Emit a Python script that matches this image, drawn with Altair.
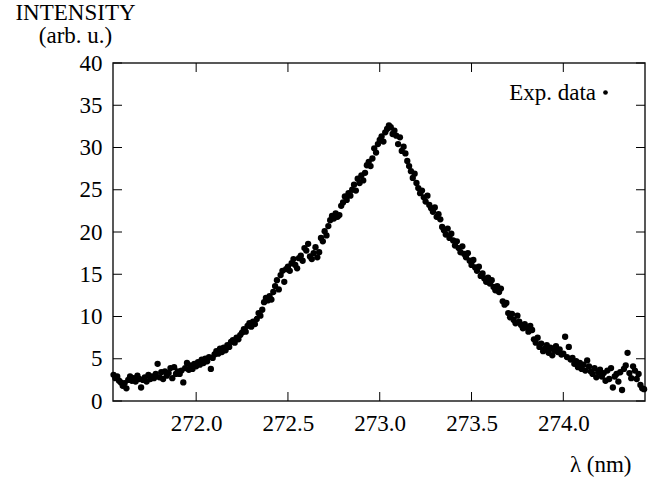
import altair as alt
import pandas as pd

# ---- data ----
wavelength = [
    271.55, 271.56, 271.57, 271.58, 271.59,
    271.60, 271.61, 271.62, 271.63, 271.64, 271.65, 271.66, 271.67, 271.68, 271.69,
    271.70, 271.71, 271.72, 271.73, 271.74, 271.75, 271.76, 271.77, 271.78, 271.79,
    271.80, 271.81, 271.82, 271.83, 271.84, 271.85, 271.86, 271.87, 271.88, 271.89,
    271.90, 271.91, 271.92, 271.93, 271.94, 271.95, 271.96, 271.97, 271.98, 271.99,
    272.00, 272.01, 272.02, 272.03, 272.04, 272.05, 272.06, 272.07, 272.08, 272.09,
    272.10, 272.11, 272.12, 272.13, 272.14, 272.15, 272.16, 272.17, 272.18, 272.19,
    272.20, 272.21, 272.22, 272.23, 272.24, 272.25, 272.26, 272.27, 272.28, 272.29,
    272.30, 272.31, 272.32, 272.33, 272.34, 272.35, 272.36, 272.37, 272.38, 272.39,
    272.40, 272.41, 272.42, 272.43, 272.44, 272.45, 272.46, 272.47, 272.48, 272.49,
    272.50, 272.51, 272.52, 272.53, 272.54, 272.55, 272.56, 272.57, 272.58, 272.59,
    272.60, 272.61, 272.62, 272.63, 272.64, 272.65, 272.66, 272.67, 272.68, 272.69,
    272.70, 272.71, 272.72, 272.73, 272.74, 272.75, 272.76, 272.77, 272.78, 272.79,
    272.80, 272.81, 272.82, 272.83, 272.84, 272.85, 272.86, 272.87, 272.88, 272.89,
    272.90, 272.91, 272.92, 272.93, 272.94, 272.95, 272.96, 272.97, 272.98, 272.99,
    273.00, 273.01, 273.02, 273.03, 273.04, 273.05, 273.06, 273.07, 273.08, 273.09,
    273.10, 273.11, 273.12, 273.13, 273.14, 273.15, 273.16, 273.17, 273.18, 273.19,
    273.20, 273.21, 273.22, 273.23, 273.24, 273.25, 273.26, 273.27, 273.28, 273.29,
    273.30, 273.31, 273.32, 273.33, 273.34, 273.35, 273.36, 273.37, 273.38, 273.39,
    273.40, 273.41, 273.42, 273.43, 273.44, 273.45, 273.46, 273.47, 273.48, 273.49,
    273.50, 273.51, 273.52, 273.53, 273.54, 273.55, 273.56, 273.57, 273.58, 273.59,
    273.60, 273.61, 273.62, 273.63, 273.64, 273.65, 273.66, 273.67, 273.68, 273.69,
    273.70, 273.71, 273.72, 273.73, 273.74, 273.75, 273.76, 273.77, 273.78, 273.79,
    273.80, 273.81, 273.82, 273.83, 273.84, 273.85, 273.86, 273.87, 273.88, 273.89,
    273.90, 273.91, 273.92, 273.93, 273.94, 273.95, 273.96, 273.97, 273.98, 273.99,
    274.00, 274.01, 274.02, 274.03, 274.04, 274.05, 274.06, 274.07, 274.08, 274.09,
    274.10, 274.11, 274.12, 274.13, 274.14, 274.15, 274.16, 274.17, 274.18, 274.19,
    274.20, 274.21, 274.22, 274.23, 274.24, 274.25, 274.26, 274.27, 274.28, 274.29,
    274.30, 274.31, 274.32, 274.33, 274.34, 274.35, 274.36, 274.37, 274.38, 274.39,
    274.40, 274.41, 274.42, 274.43, 274.44,
]
intensity = [
    3.1, 2.7, 2.9, 2.4, 2.2,
    1.8, 2.1, 1.5, 2.5, 2.9, 2.4, 2.7, 2.3, 3.0, 2.6,
    1.6, 2.5, 2.8, 2.3, 3.1, 2.6, 2.9, 2.7, 3.2, 4.4,
    2.8, 3.4, 2.6, 3.5, 3.0, 3.3, 3.9, 2.7, 4.0, 3.2,
    3.5, 3.2, 3.6, 2.2, 3.9, 4.5, 3.7, 4.2, 3.8, 4.4,
    4.1, 4.6, 4.3, 4.9, 4.5, 5.0, 4.7, 5.2, 3.8, 5.1,
    5.5, 5.9, 5.6, 6.2, 5.8, 6.3, 6.0, 6.6, 6.4, 7.0,
    7.2, 6.9, 7.5, 7.3, 7.8, 8.1, 8.5, 8.2, 8.9, 9.2,
    8.8, 9.4, 9.1, 9.7, 10.4, 10.1, 10.8, 11.7, 12.2, 11.9,
    12.4, 12.0, 12.9, 13.6, 14.3, 13.2, 14.9, 15.4, 14.1, 15.6,
    15.9, 15.4, 16.3, 16.8, 16.1, 15.7, 16.9, 17.2, 16.6, 18.1,
    17.8, 18.6, 17.1, 16.8, 17.5, 18.2, 17.0, 17.6, 19.3, 18.9,
    20.1, 19.6, 20.7, 21.4, 21.9, 21.6, 22.2, 21.8, 22.0, 23.1,
    23.5, 24.2, 23.8, 24.6, 24.3, 25.0, 25.6, 24.9, 26.3, 25.8,
    26.7, 26.1, 27.0, 27.9, 28.3, 27.8, 28.7, 29.9, 29.4, 30.4,
    30.9, 31.3, 30.7, 31.8, 32.2, 32.6, 32.4, 31.6, 32.0, 31.4,
    30.4, 31.2, 29.6, 30.1, 29.3, 28.4, 27.8, 27.2, 26.4, 26.9,
    25.8, 25.2, 24.6, 24.9, 24.1, 23.6, 24.3, 23.2, 22.8, 22.4,
    22.9, 21.8, 22.1, 21.5, 20.6, 20.2, 19.7, 20.4, 19.3, 19.8,
    19.0, 18.4, 18.9, 18.1, 17.6, 18.3, 17.4, 17.0, 17.5, 16.6,
    16.1, 16.7, 15.8, 15.4, 15.9, 14.8, 15.1, 14.5, 14.1, 14.6,
    13.9, 14.3, 13.5, 13.1, 13.6, 12.9, 13.3, 11.8, 11.4, 11.6,
    10.4, 9.9, 10.3, 9.6, 9.2, 10.1, 9.4, 9.0, 8.6, 9.1,
    8.7, 8.2, 8.9, 8.4, 7.3, 6.9, 7.5, 6.4, 6.8, 5.9,
    6.2, 6.6, 5.7, 6.3, 5.4, 6.0, 6.5, 5.8, 6.1, 5.5,
    5.6, 7.6, 5.2, 6.4, 4.9, 5.1, 4.4, 4.7, 4.0, 4.5,
    3.8, 4.3, 3.6, 4.8, 4.1, 3.5, 3.2, 3.9, 2.8, 3.4,
    3.7, 2.9, 3.3, 2.4, 3.6, 2.6, 3.9, 1.6, 2.9, 3.2,
    2.3, 3.4, 1.3, 3.8, 4.2, 5.7, 3.3, 2.7, 4.1, 3.6,
    2.6, 3.2, 1.9, 1.5, 1.4,
]
x_ticks = [272.0, 272.5, 273.0, 273.5, 274.0]
y_ticks = [0, 5, 10, 15, 20, 25, 30, 35, 40]
x_domain = [271.547, 274.445]
y_domain = [0, 40]
series_name = "Exp. data"
x_title = "λ (nm)"
y_title = ["INTENSITY", "(arb. u.)"]

# ---- layout / style ----
W, H = 532, 338
TICK = 9
FONT = "Liberation Serif"
FS = 23

df = pd.DataFrame({"wavelength": wavelength, "intensity": intensity})
df["series"] = series_name
xt = pd.DataFrame({"wavelength": x_ticks})
yt = pd.DataFrame({"intensity": y_ticks})

xscale = alt.Scale(domain=x_domain, nice=False, zero=False)
yscale = alt.Scale(domain=y_domain, nice=False, zero=False)

x_axis = alt.Axis(
    values=x_ticks, format=".1f", title=x_title,
    ticks=False, domain=False, grid=False,
    labelFont=FONT, labelFontSize=FS, labelColor="black", labelPadding=11,
    labelFlush=False,
    titleFont=FONT, titleFontSize=FS, titleFontWeight="normal", titleColor="black",
    titleAlign="right", titleAnchor="end", titleX=518, titleY=70,
    titleBaseline="alphabetic",
)
y_axis = alt.Axis(
    values=y_ticks, format="d", title=y_title,
    ticks=False, domain=False, grid=False,
    labelFont=FONT, labelFontSize=FS, labelColor="black", labelPadding=11,
    labelFlush=False,
    titleFont=FONT, titleFontSize=FS, titleFontWeight="normal", titleColor="black",
    titleAngle=0, titleAlign="center", titleX=-38, titleY=-44,
    titleBaseline="alphabetic", titleLineHeight=23,
)

X = alt.X("wavelength:Q", scale=xscale, axis=x_axis)
Y = alt.Y("intensity:Q", scale=yscale, axis=y_axis)

points = alt.Chart(df).mark_circle(size=40, opacity=1, color="black").encode(
    x=X,
    y=Y,
    color=alt.Color(
        "series:N",
        scale=alt.Scale(range=["black"]),
        legend=alt.Legend(
            title=None, orient="none", legendX=481, legendY=18, padding=0,
            symbolType="circle", symbolSize=22, symbolFillColor="black",
            symbolStrokeWidth=0, symbolOpacity=1,
            labelFont=FONT, labelFontSize=FS, labelColor="black",
            labelAlign="right", labelOffset={"expr": "-21"},
        ),
    ),
)

left_ticks = alt.Chart(yt).mark_rule(color="black", strokeWidth=1).encode(
    y=Y, x=alt.value(0), x2=alt.value(TICK)
)
right_ticks = alt.Chart(yt).mark_rule(color="black", strokeWidth=1).encode(
    y=Y, x=alt.value(W), x2=alt.value(W - TICK)
)
bottom_ticks = alt.Chart(xt).mark_rule(color="black", strokeWidth=1).encode(
    x=X, y=alt.value(H), y2=alt.value(H - TICK)
)
top_ticks = alt.Chart(xt).mark_rule(color="black", strokeWidth=1).encode(
    x=X, y=alt.value(0), y2=alt.value(TICK)
)

chart = (
    alt.layer(points, left_ticks, right_ticks, bottom_ticks, top_ticks)
    .properties(
        width=W, height=H,
        autosize=alt.AutoSizeParams(type="none"),
        padding={"left": 113, "top": 63, "right": 11, "bottom": 76},
        background="white",
    )
    .configure_view(stroke="#222222", strokeWidth=1.5)
)

chart.save("out.html", embed_options={"renderer": "svg", "actions": False})
